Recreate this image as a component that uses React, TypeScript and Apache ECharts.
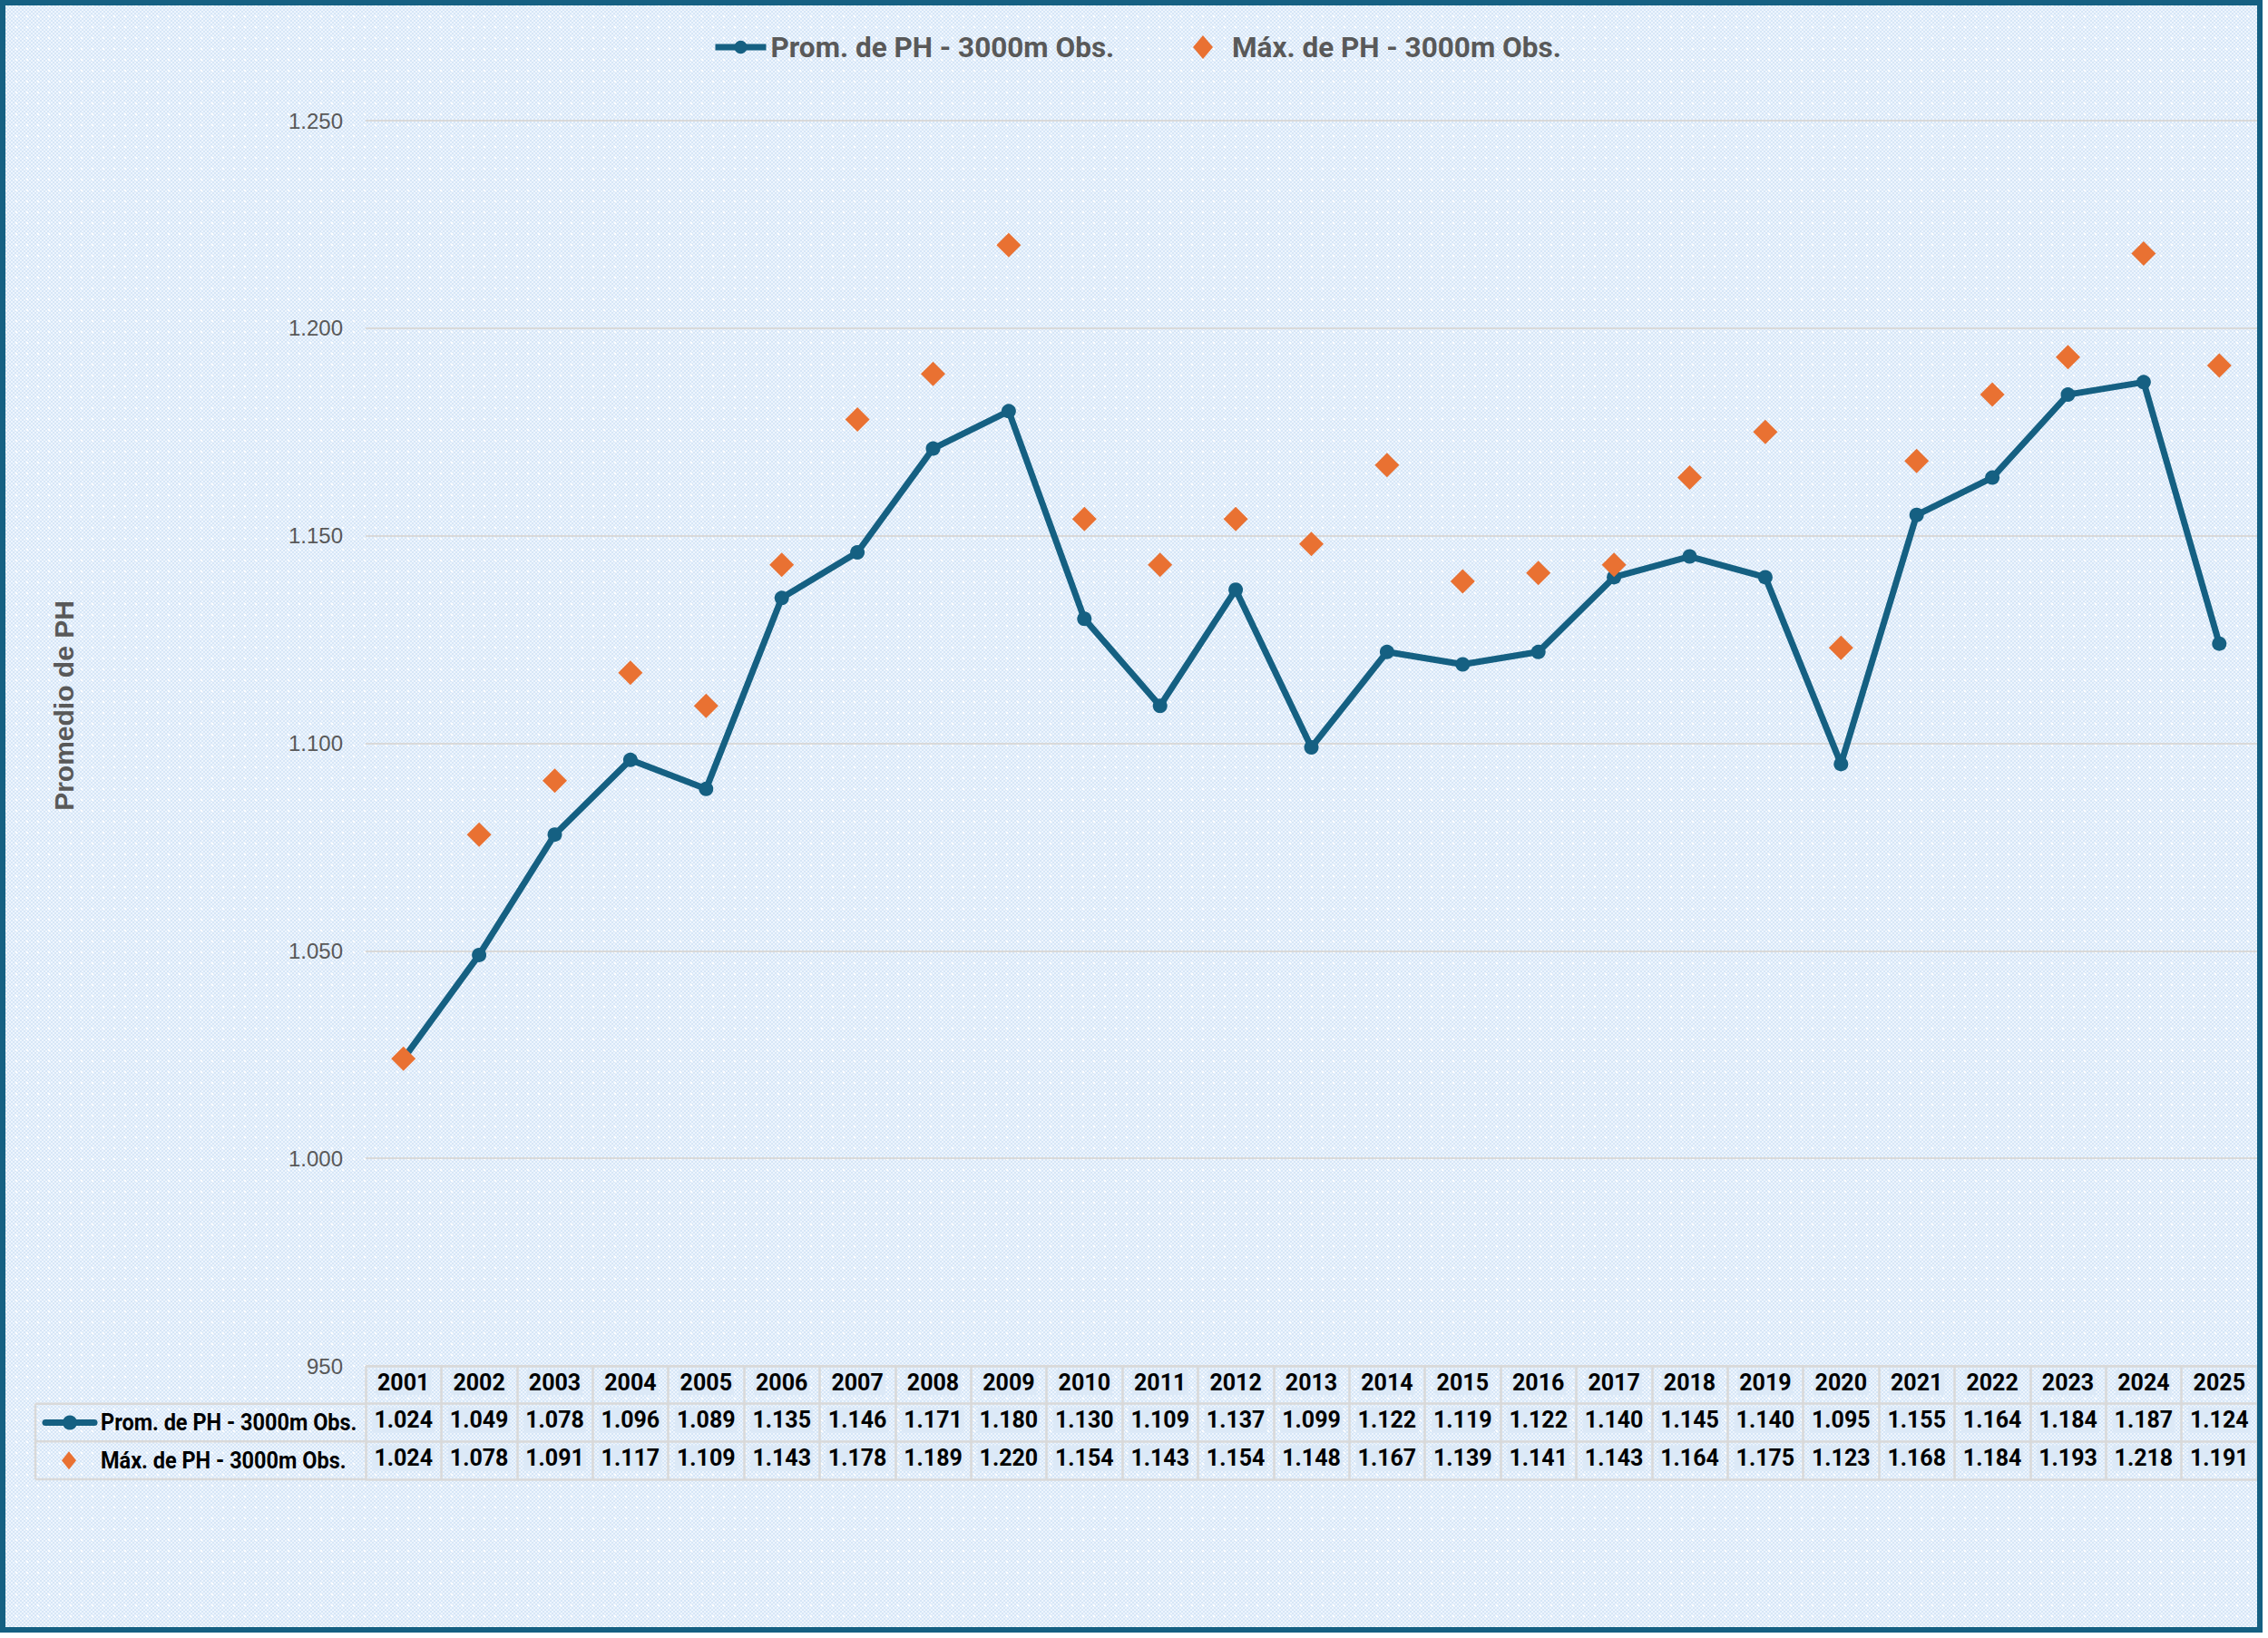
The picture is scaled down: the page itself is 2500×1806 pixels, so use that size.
import React, { useEffect, useRef } from "react";
import * as echarts from "echarts";

const years = ["2001","2002","2003","2004","2005","2006","2007","2008","2009","2010","2011","2012","2013","2014","2015","2016","2017","2018","2019","2020","2021","2022","2023","2024","2025"];
const promValues = [1024,1049,1078,1096,1089,1135,1146,1171,1180,1130,1109,1137,1099,1122,1119,1122,1140,1145,1140,1095,1155,1164,1184,1187,1124];
const maxValues = [1024,1078,1091,1117,1109,1143,1178,1189,1220,1154,1143,1154,1148,1167,1139,1141,1143,1164,1175,1123,1168,1184,1193,1218,1191];
const seriesNames = ["Prom. de PH - 3000m Obs.", "Máx. de PH - 3000m Obs."];
const yAxisTitle = "Promedio de PH";

const BLUE = "#156082";
const ORANGE = "#E97132";
const GRID_COLOR = "#d9d9d9";
const NARROW = 'Roboto, "DejaVu Sans Condensed", sans-serif';
const SANS = '"Liberation Sans", Arial, sans-serif';

const W = 2494;
const H = 1800;
const GRID_LEFT = 403;
const GRID_RIGHT = 6;
const TABLE_TOP = 1506;
const TABLE_H = 125;

function fmt(v: number): string {
  if (v >= 1000) {
    return Math.floor(v / 1000) + "." + String(v % 1000).padStart(3, "0");
  }
  return String(v);
}

export default function App() {
  const ref = useRef<HTMLDivElement>(null);
  useEffect(() => {
    document.body.style.margin = "0";
    const chart = echarts.init(ref.current!, null, { renderer: "svg" });
    const rowH = TABLE_H / 3;
    const r1 = TABLE_TOP + rowH;
    const r2 = TABLE_TOP + 2 * rowH;
    const r3 = TABLE_TOP + 3 * rowH;
    const labelLeft = 39;
    const legendText = { fontFamily: NARROW, fontWeight: "bold", fontSize: 31.5, color: "#595959" };
    const option: any = {
      animation: false,
      legend: [
        {
          top: 31,
          left: 780,
          itemWidth: 56,
          itemHeight: 18,
          lineStyle: { width: 7 },
          itemStyle: { borderWidth: 0 },
          textStyle: legendText,
          data: [seriesNames[0]],
        },
        {
          top: 31,
          left: 1310,
          itemWidth: 22,
          itemHeight: 26,
          textStyle: { ...legendText, padding: [0, 0, 0, 16] },
          data: [seriesNames[1]],
        },
      ],
      grid: [
        { left: GRID_LEFT, right: GRID_RIGHT, top: 133, bottom: H - TABLE_TOP },
        { left: GRID_LEFT, right: GRID_RIGHT, top: TABLE_TOP, height: TABLE_H },
      ],
      xAxis: [
        {
          type: "category",
          data: years,
          gridIndex: 0,
          boundaryGap: true,
          axisLine: { show: false },
          axisTick: { show: false },
          axisLabel: { show: false },
        },
        {
          type: "category",
          data: years,
          gridIndex: 1,
          position: "top",
          boundaryGap: true,
          axisLine: { show: false },
          axisTick: { show: false },
          splitLine: { show: true, lineStyle: { color: GRID_COLOR, width: 2.5 } },
          axisLabel: {
            show: true,
            interval: 0,
            inside: true,
            margin: 4,
            verticalAlign: "top",
            formatter: (value: string, index: number) =>
              `{y|${value}}\n{s| }\n{v|${fmt(promValues[index])}}\n{s| }\n{v|${fmt(maxValues[index])}}`,
            rich: {
              y: { fontFamily: NARROW, fontWeight: "bold", fontSize: 25, color: "#000", backgroundColor: "#dce9f7", height: 28, lineHeight: 28, padding: [0, 2] },
              v: { fontFamily: NARROW, fontWeight: "bold", fontSize: 25, color: "#000", backgroundColor: "#dce9f7", height: 28, lineHeight: 28, padding: [0, 2] },
              s: { fontSize: 1, lineHeight: 13.7, height: 13.7 },
            },
          },
        },
      ],
      yAxis: [
        {
          type: "value",
          gridIndex: 0,
          min: 950,
          max: 1250,
          interval: 50,
          axisLine: { show: false },
          axisTick: { show: false },
          axisLabel: { formatter: (v: number) => fmt(v), fontFamily: SANS, fontSize: 24, color: "#595959", margin: 25 },
          splitLine: { lineStyle: { color: GRID_COLOR, width: 2 } },
        },
        {
          type: "value",
          gridIndex: 1,
          min: 0,
          max: 3,
          interval: 1,
          axisLine: { show: false },
          axisTick: { show: false },
          axisLabel: { show: false },
          splitLine: { show: true, lineStyle: { color: GRID_COLOR, width: 2.5 } },
        },
      ],
      series: [
        {
          name: seriesNames[0],
          type: "line",
          xAxisIndex: 0,
          yAxisIndex: 0,
          data: promValues,
          symbol: "circle",
          symbolSize: 16,
          lineStyle: { color: BLUE, width: 7 },
          itemStyle: { color: BLUE },
          z: 2,
        },
        {
          name: seriesNames[1],
          type: "scatter",
          xAxisIndex: 0,
          yAxisIndex: 0,
          data: maxValues,
          symbol: "diamond",
          symbolSize: 27,
          itemStyle: { color: ORANGE, opacity: 1 },
          z: 3,
        },
      ],
      graphic: [
        {
          type: "rect",
          silent: true,
          shape: { x: 3, y: 3, width: W - 6, height: H - 6 },
          style: { fill: "none", stroke: BLUE, lineWidth: 6 },
          z: 100,
        },
        {
          type: "text",
          x: 70,
          y: 778,
          rotation: Math.PI / 2,
          style: { text: yAxisTitle, fontFamily: SANS, fontWeight: "bold", fontSize: 30, fill: "#595959", align: "center", verticalAlign: "middle" },
        },
        // row label column borders
        { type: "line", shape: { x1: labelLeft, y1: r1, x2: GRID_LEFT, y2: r1 }, style: { stroke: GRID_COLOR, lineWidth: 2.5 } },
        { type: "line", shape: { x1: labelLeft, y1: r2, x2: GRID_LEFT, y2: r2 }, style: { stroke: GRID_COLOR, lineWidth: 2.5 } },
        { type: "line", shape: { x1: labelLeft, y1: r3, x2: GRID_LEFT, y2: r3 }, style: { stroke: GRID_COLOR, lineWidth: 2.5 } },
        { type: "line", shape: { x1: labelLeft, y1: r1, x2: labelLeft, y2: r3 }, style: { stroke: GRID_COLOR, lineWidth: 2.5 } },
        // row keys
        { type: "line", shape: { x1: 50, y1: (r1 + r2) / 2, x2: 104, y2: (r1 + r2) / 2 }, style: { stroke: BLUE, lineWidth: 7, lineCap: "round" } },
        { type: "circle", shape: { cx: 77, cy: (r1 + r2) / 2, r: 8 }, style: { fill: BLUE } },
        { type: "polygon", shape: { points: [[76, (r2 + r3) / 2 - 10], [84, (r2 + r3) / 2], [76, (r2 + r3) / 2 + 10], [68, (r2 + r3) / 2]] }, style: { fill: ORANGE } },
        {
          type: "text",
          x: 111,
          y: (r1 + r2) / 2,
          scaleX: 0.94,
          style: { text: seriesNames[0], fontFamily: NARROW, fontWeight: "bold", fontSize: 25, fill: "#000", verticalAlign: "middle" },
        },
        {
          type: "text",
          x: 111,
          y: (r2 + r3) / 2,
          scaleX: 0.94,
          style: { text: seriesNames[1], fontFamily: NARROW, fontWeight: "bold", fontSize: 25, fill: "#000", verticalAlign: "middle" },
        },
      ],
    };
    chart.setOption(option);
    return () => chart.dispose();
  }, []);

  const bg: React.CSSProperties = {
    position: "relative",
    width: W,
    height: H,
    backgroundColor: "#e3eefa",
    backgroundImage:
      "radial-gradient(circle, rgba(255,255,255,0.9) 0 1.2px, transparent 1.6px), repeating-conic-gradient(#d6e6f7 0 25%, #eef5fd 0 50%)",
    backgroundSize: "12px 12px, 4px 4px",
  };
  return (
    <div style={bg}>
      <div ref={ref} style={{ position: "absolute", left: 0, top: 0, width: W, height: H }} />
    </div>
  );
}
